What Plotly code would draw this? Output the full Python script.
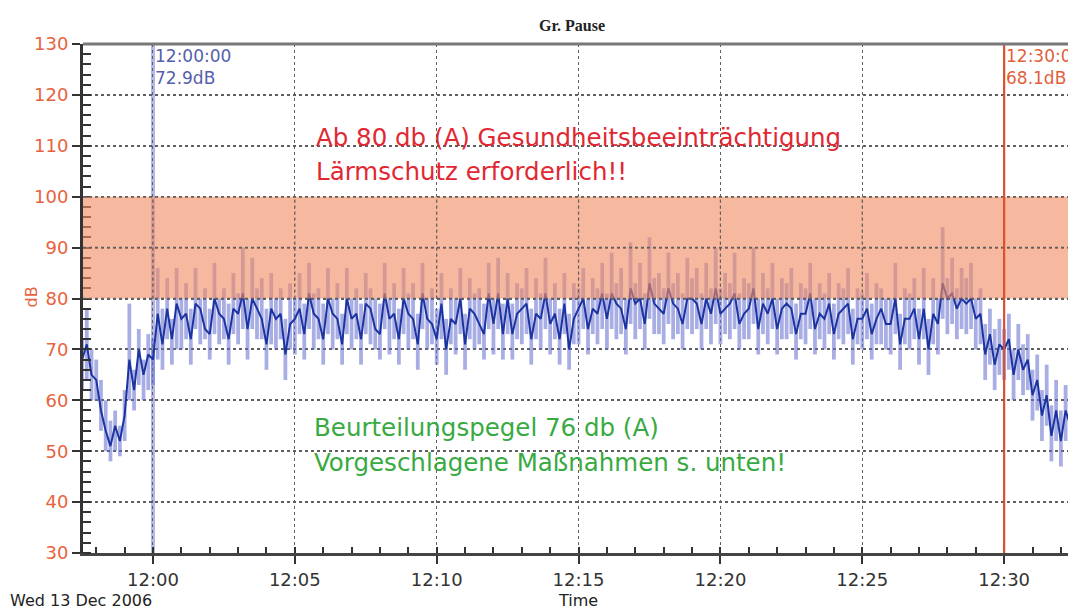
import plotly.graph_objects as go
import pandas as pd

# ---------------- data ----------------
start_time = "2006-12-13 11:57:30"
sample_step = "10s"

# per-10-s maximum level, dB(A)
db_max = [72, 78, 70,
          68, 64, 60, 56, 58, 55,
          62, 79, 66, 74, 68, 73,
          72, 86, 78, 84, 76, 86,
          80, 83, 78, 86, 80, 82,
          78, 87, 80, 82, 79, 85,
          81, 90, 80, 88, 82, 84,
          78, 85, 80, 82, 76, 83,
          80, 85, 79, 87, 81, 82,
          79, 86, 80, 83, 77, 86,
          80, 82, 79, 85, 82, 80,
          79, 87, 80, 83, 78, 86,
          81, 83, 77, 87, 80, 82,
          78, 85, 76, 82, 80, 86,
          77, 84, 81, 82, 79, 87,
          80, 88, 79, 85, 79, 83,
          82, 86, 78, 84, 81, 88,
          80, 83, 78, 85, 77, 83,
          82, 86, 80, 84, 82, 87,
          81, 89, 83, 86, 80, 91,
          83, 87, 81, 92, 84, 85,
          82, 89, 83, 85, 81, 88,
          84, 86, 81, 87, 82, 90,
          82, 85, 83, 89, 81, 84,
          83, 90, 80, 85, 82, 87,
          80, 84, 83, 86, 79, 83,
          82, 87, 80, 83, 81, 85,
          79, 83, 82, 86, 78, 82,
          81, 85, 79, 83, 82, 80,
          80, 87, 77, 82, 81, 84,
          78, 86, 76, 84, 80, 94,
          84, 88, 82, 86, 84, 87,
          80, 82, 75, 78, 74, 76,
          74, 77, 70, 75, 71, 73,
          66, 69, 62, 67, 59, 64,
          58, 63, 60]

# per-10-s minimum level, dB(A)
db_min = [62, 64, 60,
          60, 54, 50, 48, 50, 49,
          52, 60, 58, 63, 60, 62,
          63, 68, 66, 72, 67, 70,
          70, 72, 67, 74, 71, 72,
          68, 73, 71, 72, 67, 73,
          71, 74, 68, 74, 72, 72,
          66, 71, 70, 72, 64, 70,
          69, 73, 68, 74, 70, 72,
          67, 73, 70, 72, 67, 73,
          70, 72, 67, 73, 71, 70,
          68, 74, 69, 72, 67, 73,
          70, 72, 66, 74, 70, 71,
          67, 72, 65, 71, 69, 73,
          66, 72, 70, 71, 68, 74,
          69, 74, 68, 73, 68, 72,
          71, 73, 67, 72, 70, 74,
          69, 72, 67, 73, 66, 71,
          71, 74, 69, 73, 71, 74,
          70, 74, 72, 73, 69, 75,
          72, 74, 70, 76, 73, 73,
          71, 75, 72, 73, 70, 74,
          73, 74, 70, 74, 71, 75,
          71, 73, 72, 74, 70, 72,
          72, 75, 69, 73, 71, 74,
          69, 72, 72, 73, 68, 72,
          71, 74, 69, 72, 70, 73,
          68, 72, 71, 73, 67, 71,
          70, 72, 68, 71, 71, 70,
          69, 73, 66, 71, 70, 72,
          67, 72, 65, 71, 69, 76,
          73, 75, 72, 74, 73, 74,
          70, 71, 64, 67, 62, 65,
          64, 66, 60, 64, 61, 62,
          56, 58, 52, 55, 48, 52,
          47, 52, 50]

# running (dark) level, dB(A), one value per 10 s
db_level = [68, 71, 65,
            64, 58, 54, 51, 55, 52,
            57, 68, 62, 70, 65, 69,
            68, 77, 71, 78, 72, 79,
            76, 77, 72, 79, 78, 74,
            73, 80, 77, 76, 72, 78,
            77, 81, 74, 80, 78, 76,
            71, 78, 76, 77, 69, 75,
            76, 78, 73, 81, 77, 76,
            72, 80, 77, 76, 71, 80,
            76, 77, 72, 79, 78, 74,
            73, 81, 76, 77, 72, 80,
            77, 76, 71, 81, 76, 75,
            72, 79, 70, 76, 75, 80,
            71, 78, 77, 75, 73, 81,
            75, 81, 73, 80, 73, 77,
            78, 79, 72, 77, 76, 81,
            75, 77, 72, 79, 70, 76,
            78, 80, 74, 78, 77, 81,
            76, 81, 79, 78, 74, 82,
            79, 80, 75, 83, 79, 78,
            77, 82, 79, 78, 75, 80,
            80, 79, 75, 80, 77, 82,
            77, 78, 79, 81, 75, 77,
            78, 82, 74, 79, 77, 80,
            74, 78, 79, 78, 73, 77,
            77, 81, 74, 77, 76, 79,
            73, 77, 78, 79, 72, 76,
            76, 78, 73, 76, 78, 75,
            75, 80, 71, 76, 76, 78,
            72, 78, 70, 77, 75, 83,
            80, 81, 78, 80, 79, 80,
            76, 77, 69, 73, 67, 71,
            70, 72, 65, 70, 66, 68,
            61, 64, 57, 61, 53, 58,
            52, 58, 55]

band_low, band_high = 80, 100
cursor_times = ["2006-12-13 12:00:00", "2006-12-13 12:30:00"]
cursor_labels = ["12:00:00<br>72.9dB", "12:30:00<br>68.1dB"]
x_range = ["2006-12-13 11:57:32", "2006-12-13 12:32:32"]
y_range = [30, 130]
major_times = pd.date_range("2006-12-13 12:00", "2006-12-13 12:30", freq="5min")
band_grid_values = [80, 90, 100]

times = pd.date_range(start_time, periods=len(db_level), freq=sample_step)
spans = [hi - lo for hi, lo in zip(db_max, db_min)]

FONT = "DejaVu Sans"
TICK_RED = "rgb(232,98,62)"
GRID = "rgb(95,95,95)"

fig = go.Figure()
fig.add_trace(go.Bar(x=times, y=spans, base=db_min, width=8000,
                     marker=dict(color="rgba(105,115,208,0.58)", line=dict(width=0)),
                     hoverinfo="skip", showlegend=False))
fig.add_trace(go.Scatter(x=times, y=db_level, mode="lines",
                         line=dict(color="rgb(28,52,162)", width=2.0),
                         showlegend=False))

shapes = []
shapes.append(dict(type="line", xref="x", yref="paper", x0=cursor_times[0], x1=cursor_times[0],
                   y0=0, y1=1, line=dict(color="rgb(178,183,228)", width=4), layer="between"))
shapes.append(dict(type="rect", xref="paper", yref="y", x0=0, x1=1, y0=band_low, y1=band_high,
                   fillcolor="rgb(240,140,100)", opacity=0.62, line=dict(width=0), layer="above"))
for v in band_grid_values:
    shapes.append(dict(type="line", xref="paper", yref="y", x0=0, x1=1, y0=v, y1=v,
                       line=dict(color=GRID, width=1.5, dash="dot"), layer="above"))
for t in major_times:
    shapes.append(dict(type="line", xref="x", yref="y", x0=t, x1=t, y0=band_low, y1=band_high,
                       line=dict(color=GRID, width=1.2, dash="dot"), layer="above"))
shapes.append(dict(type="line", xref="x", yref="paper", x0=cursor_times[1], x1=cursor_times[1],
                   y0=0, y1=1, line=dict(color="rgb(222,78,48)", width=2.2), layer="above"))
shapes.append(dict(type="line", xref="paper", yref="paper", x0=0, x1=1, y0=1, y1=1,
                   line=dict(color="rgb(120,120,120)", width=3), layer="above"))

annotations = [
    dict(text="<b>Gr. Pause</b>", xref="paper", yref="paper", x=0.4925, y=1.037,
         xanchor="center", yanchor="middle",
         showarrow=False, font=dict(family="Liberation Serif", size=16, color="#222")),
    dict(text=cursor_labels[0], xref="x", yref="paper", x=cursor_times[0], y=1.0,
         xanchor="left", yanchor="top", align="left", showarrow=False,
         font=dict(family=FONT, size=17, color="rgb(85,95,172)")),
    dict(text=cursor_labels[1], xref="x", yref="paper", x=cursor_times[1], y=1.0,
         xanchor="left", yanchor="top", align="left", showarrow=False,
         font=dict(family=FONT, size=17, color="rgb(226,95,60)")),
    dict(text="Ab 80 db (A) Gesundheitsbeeinträchtigung", xref="paper", yref="y",
         x=0.2326, y=111.7, xanchor="left", yanchor="middle", showarrow=False,
         font=dict(family=FONT, size=24.5, color="rgb(225,40,50)")),
    dict(text="Lärmschutz erforderlich!!", xref="paper", yref="y",
         x=0.2326, y=105.0, xanchor="left", yanchor="middle", showarrow=False,
         font=dict(family=FONT, size=24.5, color="rgb(225,40,50)")),
    dict(text="Beurteilungspegel 76 db (A)", xref="paper", yref="y",
         x=0.2306, y=54.6, xanchor="left", yanchor="middle", showarrow=False,
         font=dict(family=FONT, size=24.5, color="rgb(55,170,65)")),
    dict(text="Vorgeschlagene Maßnahmen s. unten!", xref="paper", yref="y",
         x=0.2306, y=47.7, xanchor="left", yanchor="middle", showarrow=False,
         font=dict(family=FONT, size=24.5, color="rgb(55,170,65)")),
    dict(text="dB", xref="paper", yref="paper", x=-0.0634, y=0.503, textangle=-90,
         showarrow=False, font=dict(family=FONT, size=16, color=TICK_RED)),
    dict(text="Wed 13 Dec 2006", xref="paper", yref="paper", x=-0.0755, y=-0.093,
         xanchor="left", yanchor="middle", showarrow=False,
         font=dict(family=FONT, size=16, color="#222")),
    dict(text="Time", xref="paper", yref="paper", x=0.498, y=-0.093,
         xanchor="center", yanchor="middle", showarrow=False,
         font=dict(family=FONT, size=16, color="#222")),
]

# the page body adds an 8 px offset, so the figure is sized/margined to compensate
fig.update_layout(
    width=1068, height=602,
    margin=dict(l=75, r=0, t=36, b=57),
    paper_bgcolor="white", plot_bgcolor="white",
    shapes=shapes, annotations=annotations,
    showlegend=False, barmode="overlay",
)
fig.update_xaxes(
    type="date", range=x_range,
    tickformat="%H:%M", dtick=300000, tick0="2006-12-13 12:00:00",
    ticks="outside", ticklen=8, tickwidth=2, tickcolor="#333",
    tickfont=dict(family=FONT, size=18, color="#333"),
    showgrid=True, gridcolor=GRID, gridwidth=1.2, griddash="dot",
    showline=True, linecolor="#444", linewidth=3,
    minor=dict(dtick=60000, tick0="2006-12-13 12:00:00", ticks="inside",
               ticklen=6, tickwidth=1.5, tickcolor="#333", showgrid=False),
    zeroline=False,
)
fig.update_yaxes(
    range=y_range, dtick=10, tick0=30,
    ticks="outside", ticklen=8, tickwidth=2, tickcolor="#333",
    tickfont=dict(family=FONT, size=18, color=TICK_RED),
    showgrid=True, gridcolor=GRID, gridwidth=1.5, griddash="dot",
    showline=True, linecolor="#333", linewidth=3,
    minor=dict(dtick=2, ticks="inside", ticklen=8, tickwidth=1.5,
               tickcolor="#333", showgrid=False),
    zeroline=False,
)

fig.write_html("out.html")
